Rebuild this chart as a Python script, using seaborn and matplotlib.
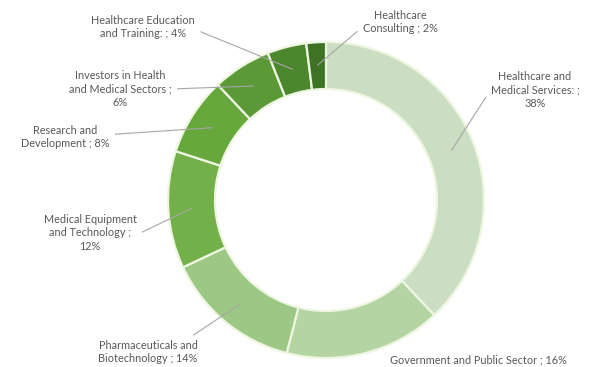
import numpy as np
import matplotlib

matplotlib.use("Agg")
import matplotlib.pyplot as plt
import seaborn as sns

# slice data, clockwise from 12 o'clock
sectors = [
    "Healthcare and\nMedical Services: ;\n38%",
    "Government and Public Sector ; 16%",
    "Pharmaceuticals and\nBiotechnology ; 14%",
    "Medical Equipment\nand Technology ;\n12%",
    "Research and\nDevelopment ; 8%",
    "Investors in Health\nand Medical Sectors ;\n6%",
    "Healthcare Education\nand Training: ; 4%",
    "Healthcare\nConsulting ; 2%",
]
shares = [38, 16, 14, 12, 8, 6, 4, 2]
colors = ["#cbdec1", "#b4d4a4", "#9cc785", "#74b049",
          "#66a83c", "#5a9935", "#4d872d", "#3e7224"]

W, H = 602, 367
sns.set_theme(style="white")
plt.rcParams["font.family"] = ["Lato", "DejaVu Sans"]

fig = plt.figure(figsize=(W / 100, H / 100), dpi=100)
ax = fig.add_axes([0, 0, 1, 1])

cx, cy, R = 326, H - 200, 158
wedges, _ = ax.pie(
    shares, colors=colors, startangle=90, counterclock=False,
    center=(cx, cy), radius=R, frame=True,
    wedgeprops=dict(width=47, edgecolor="#eef6e2", linewidth=1.6),
)
ax.set_xlim(0, W)
ax.set_ylim(0, H)
ax.set_aspect("equal")
ax.axis("off")

# label centres in pixel coords (y from top), and where the leader leaves the text
label_pos = [
    (535, 90, (0.0, 0.5)),
    (478, 360, None),
    (148, 352, (0.85, 0.9)),
    (90, 233, (1.0, 0.45)),
    (65, 137, (1.0, 0.6)),
    (120, 89, (1.0, 0.5)),
    (143, 27, (1.0, 0.4)),
    (400, 22, (0.0, 0.3)),
]

for w, text, (tx, ty, rel) in zip(wedges, sectors, label_pos):
    mid = np.deg2rad((w.theta1 + w.theta2) / 2)
    r = R - 23
    px, py = cx + r * np.cos(mid), cy + r * np.sin(mid)
    props = None
    if rel is not None:
        props = dict(arrowstyle="-", color="#a6a6a6", lw=0.8,
                     relpos=rel, shrinkA=2, shrinkB=0)
    ax.annotate(text, xy=(px, py), xytext=(tx, H - ty),
                ha="center", va="center", fontsize=7.8,
                color="#595959", linespacing=1.25,
                arrowprops=props, annotation_clip=False)

fig.savefig("out.png", dpi=100, facecolor="white")
